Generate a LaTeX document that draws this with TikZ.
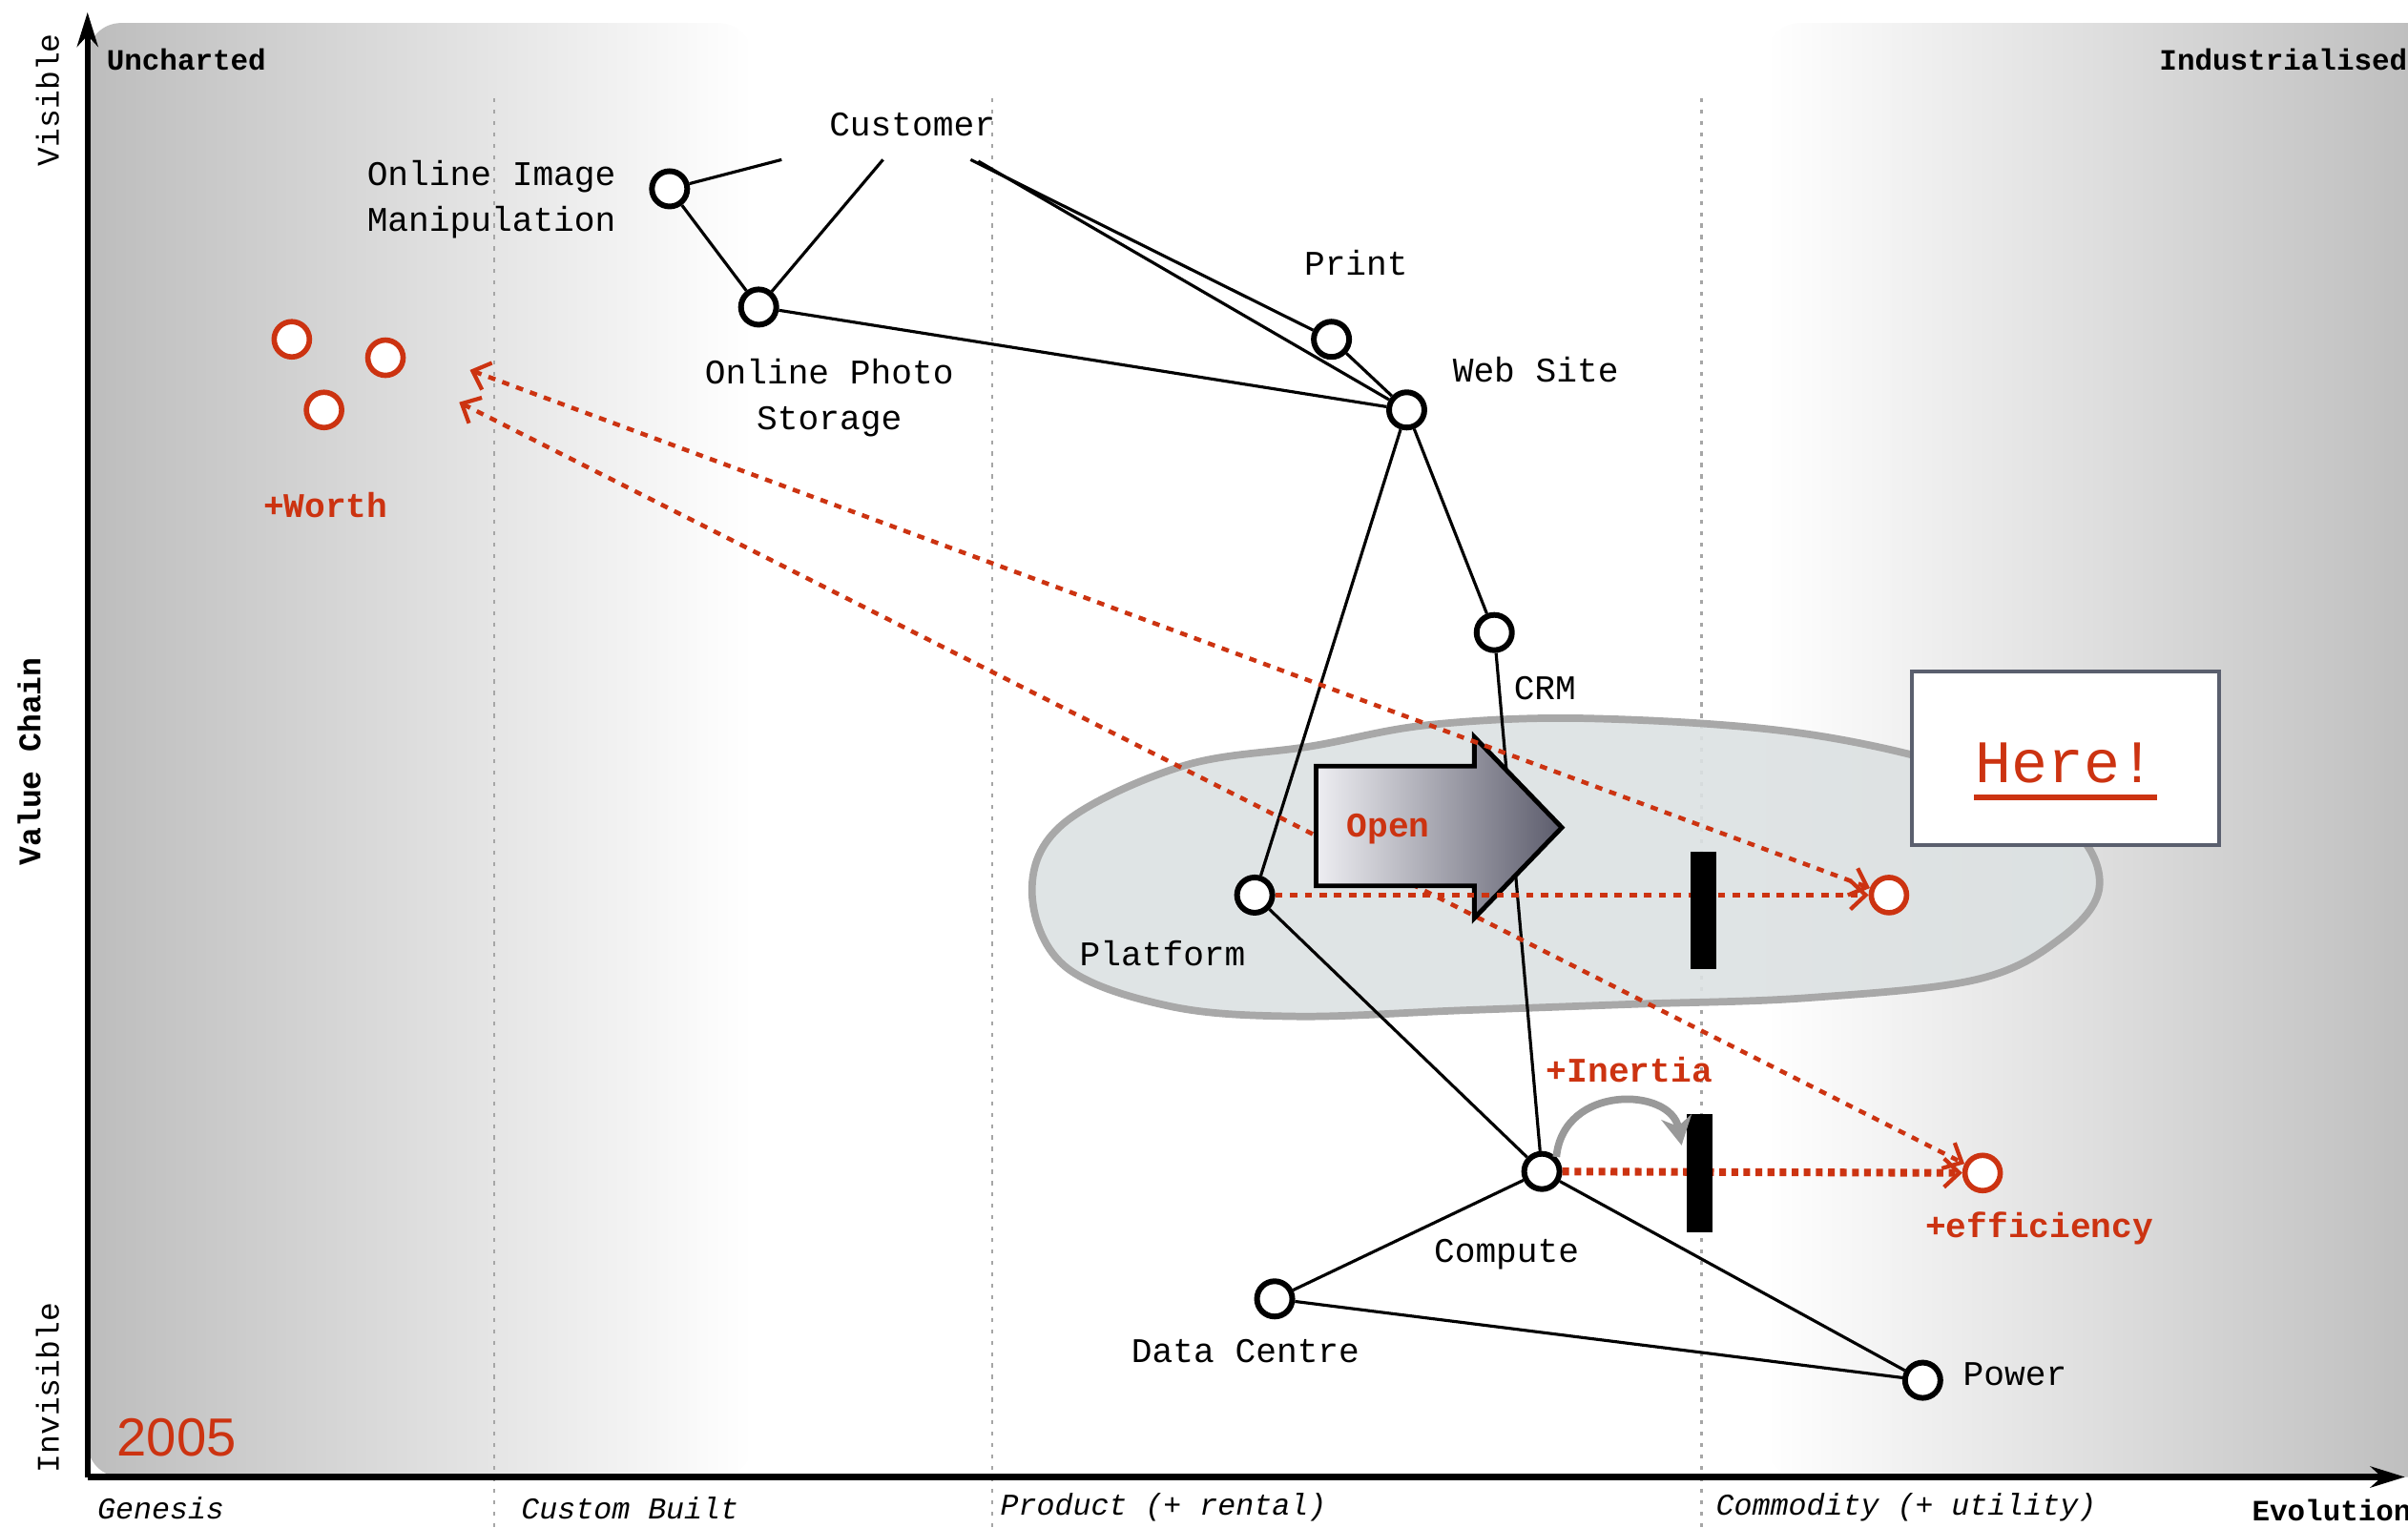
\documentclass[tikz,border=0pt]{standalone}
\usepackage{fontspec}
\setmainfont{Liberation Mono}
\newfontfamily\yearfont{Liberation Sans}
\usepackage{tikz}
\usetikzlibrary{arrows.meta}

\definecolor{mapred}{RGB}{204,51,17}
\definecolor{cloudfill}{RGB}{220,225,226}
\definecolor{cloudline}{RGB}{168,168,168}
\definecolor{boxline}{RGB}{90,95,110}
\definecolor{arrowlight}{RGB}{238,238,242}
\definecolor{arrowdark}{RGB}{92,92,108}

\begin{document}
\begin{tikzpicture}[
    x=0.16097mm, y=-0.16097mm,
    comp/.style={circle, draw=black, line width=1.7pt, fill=white, minimum size=3.7mm, inner sep=0pt},
    wish/.style={circle, draw=mapred, line width=1.6pt, fill=white, minimum size=3.7mm, inner sep=0pt},
    label_txt/.style={font=\fontsize{10.3}{13.6}\selectfont, align=center, inner sep=0pt},
    corner_txt/.style={font=\fontsize{8.8}{10}\selectfont\bfseries, inner sep=0pt},
    side_txt/.style={font=\fontsize{9.4}{10}\selectfont, inner sep=0pt, rotate=90},
    stage_txt/.style={font=\fontsize{9}{10}\selectfont\itshape, inner sep=0pt, anchor=west},
    red_txt/.style={font=\fontsize{10.3}{12}\selectfont\bfseries, text=mapred, inner sep=0pt},
    link/.style={line width=0.9pt},
    guide/.style={draw=gray!70, line width=0.6pt, dash pattern=on 1.2pt off 2.2pt},
    map_axis/.style={line width=1.8pt, -{Stealth[length=3.6mm, width=2.2mm]}},
    move/.style={draw=mapred, line width=1.3pt, dash pattern=on 2.2pt off 2.2pt, >={Straight Barb[length=1.6mm, width=3mm, line width=1.2pt]}},
    strong_move/.style={move, line width=2.3pt, dash pattern=on 2pt off 1.6pt},
    barrier/.style={fill=black, minimum width=2.7mm, minimum height=12.3mm, inner sep=0pt},
    inertia/.style={draw=gray!80, line width=2.2pt, -{Stealth[length=3mm, width=3.2mm]}},
]
    \useasboundingbox (0,0) rectangle (1568,995);

    % evolution shading
    \shade[left color=black!26, right color=white, rounded corners=10] (57,15) rectangle (490,962);
    \shade[left color=white, right color=black!27, rounded corners=10] (1150,15) rectangle (1600,962);
    \draw[guide] (322,64) -- (322,995);
    \draw[guide] (646,64) -- (646,995);
    \draw[guide] (1108,64) -- (1108,995);

    % platform cloud
    \filldraw[fill=cloudfill, draw=cloudline, line width=2.2pt, fill opacity=0.9]
        plot[smooth cycle, tension=0.6] coordinates {(672,580) (693,536) (770,499) (854,486) (932,472) (1037,468)
        (1176,478) (1290,505) (1350,540) (1367,578) (1342,611) (1287,638) (1176,650) (1065,654) (954,658)
        (843,662) (760,655) (693,629)};

    % axes
    \draw[map_axis] (57,962) -- (57,8);
    \draw[map_axis] (57,962) -- (1566,962);
    \node[side_txt] (visible) at (31,65) {Visible};
    \node[side_txt, font=\fontsize{9.4}{10}\selectfont\bfseries] (value_chain) at (19,496) {Value Chain};
    \node[side_txt] (invisible) at (31,904) {Invisible};
    \node[corner_txt, anchor=west] (uncharted) at (69,39) {Uncharted};
    \node[corner_txt, anchor=east] (industrialised) at (1568,39) {Industrialised};
    \node[stage_txt] (genesis) at (63,982) {Genesis};
    \node[stage_txt] (custom) at (339,982) {Custom Built};
    \node[stage_txt] (product) at (651,982) {Product (+ rental)};
    \node[stage_txt] (commodity) at (1117,982) {Commodity (+ utility)};
    \node[corner_txt, anchor=west] (evolution) at (1466,984) {Evolution};
    \node[font=\fontsize{16}{16}\selectfont\yearfont, text=mapred, inner sep=0pt] (year) at (115,936) {2005};

    % components
    \node[label_txt] (customer) at (594,81) {Customer};
    \node[comp] (oim) at (436,123) {};
    \node[comp] (ops) at (494,200) {};
    \node[comp] (print) at (867,221) {};
    \node[comp] (web) at (916,267) {};
    \node[comp] (crm) at (973,412) {};
    \node[comp] (platform) at (817,583) {};
    \node[comp] (compute) at (1004,763) {};
    \node[comp] (datacentre) at (830,846) {};
    \node[comp] (power) at (1252,899) {};

    \node[label_txt] (oim_lbl) at (320,130) {Online Image\\Manipulation};
    \node[label_txt] (ops_lbl) at (540,259) {Online Photo\\Storage};
    \node[label_txt] (print_lbl) at (883,171) {Print};
    \node[label_txt] (web_lbl) at (1000,241) {Web Site};
    \node[label_txt] (crm_lbl) at (1006,448) {CRM};
    \node[label_txt] (platform_lbl) at (757,621) {Platform};
    \node[label_txt] (compute_lbl) at (981,817) {Compute};
    \node[label_txt] (dc_lbl) at (811,880) {Data Centre};
    \node[label_txt] (power_lbl) at (1312,895) {Power};

    % future positions
    \node[wish] (worth_a) at (190,221) {};
    \node[wish] (worth_b) at (251,233) {};
    \node[wish] (worth_c) at (211,267) {};
    \node[red_txt] (worth_lbl) at (212,329) {+Worth};
    \node[wish] (open_target) at (1230,583) {};
    \node[wish] (eff_target) at (1291,764) {};
    \node[red_txt] (inertia_lbl) at (1061,697) {+Inertia};
    \node[red_txt] (eff_lbl) at (1328,800) {+efficiency};

    % value chain
    \coordinate (cust_oim) at (509,104);
    \coordinate (cust_ops) at (575,104);
    \coordinate (cust_print) at (632,104);
    \coordinate (cust_web) at (637,105);
    \draw[link] (cust_oim) -- (oim);
    \draw[link] (cust_ops) -- (ops);
    \draw[link] (cust_print) -- (print);
    \draw[link] (cust_web) -- (web);
    \draw[link] (oim) -- (ops);
    \draw[link] (ops) -- (web);
    \draw[link] (print) -- (web);
    \draw[link] (web) -- (platform);
    \draw[link] (web) -- (crm);
    \draw[link] (crm) -- (compute);
    \draw[link] (platform) -- (compute);
    \draw[link] (compute) -- (datacentre);
    \draw[link] (compute) -- (power);
    \draw[link] (datacentre) -- (power);

    % movements
    \coordinate (worth_in_a) at (306,241);
    \coordinate (worth_in_b) at (299,262);
    \draw[move, <->] (worth_in_b) -- (eff_target);

    \shadedraw[left color=arrowlight, right color=arrowdark, draw=black, line width=1.4pt]
        (857,499) -- (960,499) -- (960,480) -- (1017,539) -- (960,598) -- (960,577) -- (857,577) -- cycle;
    \node[red_txt] (open_txt) at (904,540) {Open};

    \draw[move, <->] (worth_in_a) -- (open_target);
    \draw[move, ->] (platform) -- (open_target);
    \draw[strong_move, ->] (compute) -- (eff_target);

    \node[barrier] (bar_top) at (1109,593) {};
    \node[barrier, minimum height=12.4mm] (bar_low) at (1107,764) {};
    \coordinate (inertia_end) at (1095,746);
    \draw[inertia] (compute.north east) .. controls (1018,706) and (1088,708) .. (inertia_end);

    % callout
    \node[draw=boxline, line width=1pt, fill=white, minimum width=32.2mm, minimum height=18.2mm] (here_box) at (1345,494) {};
    \node[font=\fontsize{18}{18}\selectfont, text=mapred, inner sep=0pt] (here_txt) at (1345,497) {Here!};
    \draw[mapred, line width=1.7pt] ([yshift=-1.4mm]here_txt.south west) -- ([yshift=-1.4mm]here_txt.south east);

\end{tikzpicture}
\end{document}
